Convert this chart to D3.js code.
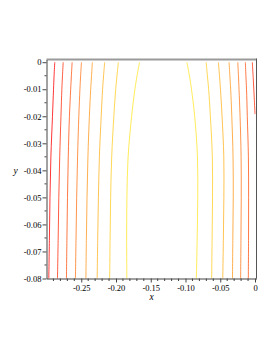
<!DOCTYPE html>
<html><head><meta charset="utf-8">
<script src="https://cdn.jsdelivr.net/npm/d3@7"></script>
<style>body{margin:0;background:#fff}svg{display:block}</style>
</head><body>
<script>
// Contour sample heights (y) shared by most traced lines
const ySamples = [0, -0.005, -0.01, -0.02, -0.035, -0.05, -0.065, -0.08];

// Left group, levels 1 (red) .. 8 (yellow): x at each ySample
const leftLevel1 = [-0.2881, -0.2891, -0.2899, -0.2914, -0.2937, -0.2950, -0.2958, -0.2967];
const leftLevel2 = [-0.2760, -0.2770, -0.2779, -0.2792, -0.2810, -0.2823, -0.2832, -0.2842];
const leftLevel3 = [-0.2631, -0.2642, -0.2652, -0.2670, -0.2687, -0.2698, -0.2706, -0.2713];
const leftLevel4 = [-0.2497, -0.2509, -0.2519, -0.2535, -0.2553, -0.2566, -0.2575, -0.2584];
const leftLevel5 = [-0.2340, -0.2352, -0.2364, -0.2383, -0.2404, -0.2417, -0.2426, -0.2433];
const leftLevel6 = [-0.2163, -0.2179, -0.2193, -0.2213, -0.2239, -0.2253, -0.2263, -0.2271];
const leftLevel7 = [-0.1966, -0.1986, -0.2004, -0.2031, -0.2062, -0.2077, -0.2085, -0.2091];
const leftLevel8 = [-0.1661, -0.1697, -0.1728, -0.1775, -0.1826, -0.1843, -0.1847, -0.1844];

// Right group, levels 8 (yellow) .. 3
const rightLevel8 = [-0.0980, -0.0944, -0.0914, -0.0868, -0.0828, -0.0824, -0.0832, -0.0844];
const rightLevel7 = [-0.0703, -0.0685, -0.0667, -0.0642, -0.0614, -0.0611, -0.0617, -0.0624];
const rightLevel6 = [-0.0527, -0.0511, -0.0497, -0.0474, -0.0449, -0.0448, -0.0455, -0.0464];
const rightLevel5 = [-0.0373, -0.0362, -0.0350, -0.0334, -0.0316, -0.0313, -0.0319, -0.0324];
const rightLevel4 = [-0.0248, -0.0238, -0.0230, -0.0215, -0.0200, -0.0198, -0.0202, -0.0207];
const rightLevel3 = [-0.0139, -0.0131, -0.0122, -0.0111, -0.0095, -0.0092, -0.0093, -0.0096];
// Short level-2 piece in the top-right corner
const rightLevel2X = [-0.0039, -0.0024, -0.0011, 0];
const rightLevel2Y = [0, -0.0066, -0.0132, -0.0192];

const xTickValues = [-0.25, -0.20, -0.15, -0.10, -0.05, 0];
const xTickLabels = ["-0.25", "-0.20", "-0.15", "-0.10", "-0.05", "0"];
const yTickValues = [0, -0.01, -0.02, -0.03, -0.04, -0.05, -0.06, -0.07, -0.08];
const yTickLabels = ["0", "-0.01", "-0.02", "-0.03", "-0.04", "-0.05", "-0.06", "-0.07", "-0.08"];
const levelColors = ["#ff2020", "#ff4a2e", "#ff6a30", "#ff8a3a", "#ffa63c", "#ffbe40", "#ffd444", "#ffea48"];

const W = 277, H = 358;
const svg = d3.select("body").append("svg").attr("width", W).attr("height", H);

const x = d3.scaleLinear().domain([-0.3, 0.00215]).range([46.5, 256.5]);
const y = d3.scaleLinear().domain([-0.08, 0.001]).range([278.5, 59.5]);

const lines = [];
[leftLevel1, leftLevel2, leftLevel3, leftLevel4, leftLevel5, leftLevel6, leftLevel7, leftLevel8]
  .forEach((xs, i) => lines.push({level: i + 1, pts: xs.map((v, j) => [v, ySamples[j]])}));
[[rightLevel8, 8], [rightLevel7, 7], [rightLevel6, 6], [rightLevel5, 5], [rightLevel4, 4], [rightLevel3, 3]]
  .forEach(([xs, lv]) => lines.push({level: lv, pts: xs.map((v, j) => [v, ySamples[j]])}));
lines.push({level: 2, pts: rightLevel2X.map((v, j) => [v, rightLevel2Y[j]])});

const lineGen = d3.line().x(d => x(d[0])).y(d => y(d[1])).curve(d3.curveCatmullRom);
svg.append("g").selectAll("path").data(lines).join("path")
  .attr("d", d => lineGen(d.pts))
  .attr("fill", "none")
  .attr("stroke", d => levelColors[d.level - 1])
  .attr("stroke-opacity", 0.9)
  .attr("stroke-width", 1);

// frame
const x0 = x.range()[0], x1 = x.range()[1], yTop = y.range()[1], yBot = y.range()[0];
svg.append("line").attr("x1", x0).attr("x2", x1).attr("y1", yTop).attr("y2", yTop)
  .attr("stroke", "#9a9a9a").attr("stroke-width", 2);
svg.append("line").attr("x1", x1).attr("x2", x1).attr("y1", yTop - 1).attr("y2", yBot)
  .attr("stroke", "#555").attr("stroke-width", 1);

const font = "'Liberation Serif','Times New Roman',serif";

// y axis
const yAxis = d3.axisLeft(y).tickValues(yTickValues).tickSize(4).tickSizeOuter(0)
  .tickFormat((d, i) => yTickLabels[i]).tickPadding(1);
const gy = svg.append("g").attr("transform", `translate(${x0},0)`).call(yAxis);
gy.select(".domain").attr("stroke", "#444");
gy.selectAll(".tick line").attr("stroke", "#444");
gy.selectAll("text").attr("font-family", font).attr("font-size", 8.5).attr("fill", "#000");
const yMinor = d3.range(-0.075, 0, 0.01);
svg.append("g").selectAll("line").data(yMinor).join("line")
  .attr("x1", x0 - 2).attr("x2", x0).attr("y1", d => y(d)).attr("y2", d => y(d))
  .attr("stroke", "#444");

// x axis
const xAxis = d3.axisBottom(x).tickValues(xTickValues).tickSize(4).tickSizeOuter(0)
  .tickFormat((d, i) => xTickLabels[i]).tickPadding(2);
const gx = svg.append("g").attr("transform", `translate(0,${yBot})`).call(xAxis);
gx.select(".domain").attr("stroke", "#444");
gx.selectAll(".tick line").attr("stroke", "#444");
gx.selectAll("text").attr("font-family", font).attr("font-size", 8.5).attr("fill", "#000");
const xMinor = d3.range(-0.29, 0, 0.01).filter(v => Math.abs(v * 20 - Math.round(v * 20)) > 1e-6);
svg.append("g").selectAll("line").data(xMinor).join("line")
  .attr("x1", d => x(d)).attr("x2", d => x(d)).attr("y1", yBot).attr("y2", yBot + 2.5)
  .attr("stroke", "#444");

// axis titles
svg.append("text").attr("x", 151.5).attr("y", 299.5).attr("text-anchor", "middle")
  .attr("font-family", font).attr("font-style", "italic").attr("font-size", 9.5).text("x");
svg.append("text").attr("x", 15.5).attr("y", 174).attr("text-anchor", "middle")
  .attr("font-family", font).attr("font-style", "italic").attr("font-size", 9.5).text("y");
</script>
</body></html>
